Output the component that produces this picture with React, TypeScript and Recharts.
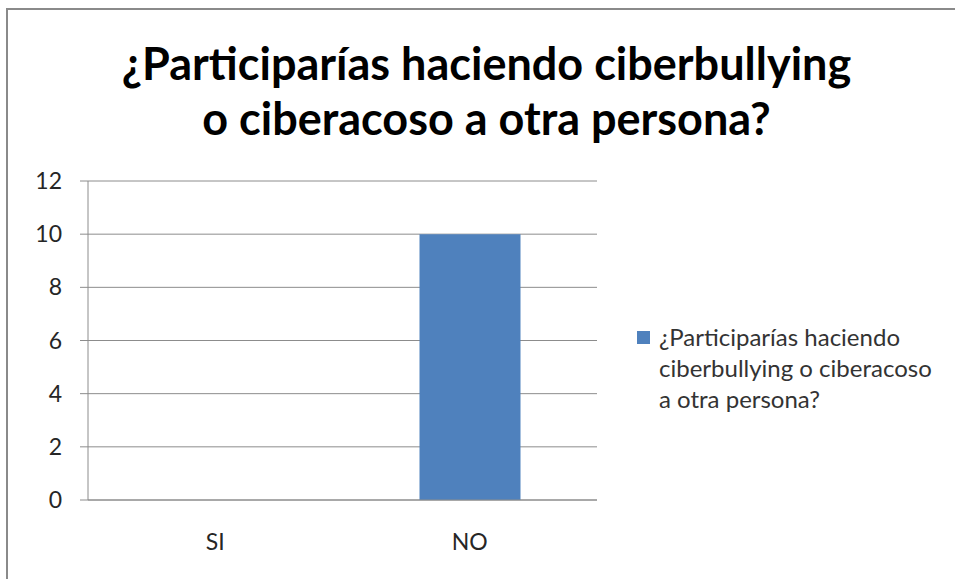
import React from 'react';
import { BarChart, Bar, XAxis, YAxis, CartesianGrid, Legend } from 'recharts';

const categories = ['SI', 'NO'];
const values = [0, 10];
const yTicks = [0, 2, 4, 6, 8, 10, 12];
const seriesName = '¿Participarías haciendo ciberbullying o ciberacoso a otra persona?';
const titleLines = ['¿Participarías haciendo ciberbullying', 'o ciberacoso a otra persona?'];
const boundaryTicks = [0, 1, 2];

const FONT = 'Lato, "Open Sans", sans-serif';
const BAR = '#4f81bd';
const GRID = '#8c8c8c';

const data = categories.map((c, i) => ({ name: c, value: values[i], pos: i + 0.5 }));

function LegendBox() {
  return (
    <div style={{ display: 'flex', alignItems: 'flex-start', fontFamily: FONT, fontSize: 24, color: '#333' }}>
      <div style={{ width: 13, height: 13, background: BAR, marginTop: 10, marginRight: 9, flexShrink: 0 }} />
      <div style={{ lineHeight: '31px', width: 300, whiteSpace: 'nowrap' }}>
        ¿Participarías haciendo<br />ciberbullying o ciberacoso<br />a otra persona?
      </div>
    </div>
  );
}

export default function App() {
  return (
    <div style={{ position: 'absolute', left: 0, top: 0, width: 955, height: 579, background: '#fff', overflow: 'hidden' }}>
      <div style={{ position: 'absolute', left: 6, top: 8, width: 960, height: 590, border: '2px solid #8a8a8a' }} />
      <div style={{ position: 'absolute', left: 9, top: 36, width: 955, textAlign: 'center', fontFamily: FONT, fontWeight: 700, fontSize: 45, lineHeight: '55px', color: '#000' }}>
        {titleLines.map((l) => (
          <div key={l}>{l}</div>
        ))}
      </div>
      <div style={{ position: 'absolute', left: 0, top: 0 }}>
        <BarChart width={955} height={579} data={data} margin={{ top: 181, right: 48, left: 28, bottom: 49 }}>
          <CartesianGrid horizontal vertical={false} stroke={GRID} strokeWidth={1} />
          <XAxis
            dataKey="name"
            xAxisId="cat"
            tickLine={false}
            axisLine={{ stroke: GRID }}
            height={30}
            tickMargin={28}
            tick={{ fontFamily: FONT, fontSize: 23, fill: '#262626' }}
          />
          <XAxis
            dataKey="pos"
            xAxisId="bound"
            type="number"
            domain={[0, 2]}
            ticks={boundaryTicks}
            tickLine={{ stroke: GRID }}
            tickSize={7}
            axisLine={false}
            tick={false}
            height={0}
          />
          <YAxis
            domain={[0, 12]}
            ticks={yTicks}
            width={60}
            tickSize={8}
            tickMargin={18}
            tickLine={{ stroke: GRID }}
            axisLine={{ stroke: GRID }}
            tick={{ fontFamily: FONT, fontSize: 23, fill: '#262626' }}
          />
          <Legend
            layout="vertical"
            align="right"
            verticalAlign="top"
            content={() => <LegendBox />}
            wrapperStyle={{ left: 637, top: 321, width: 310 }}
          />
          <Bar dataKey="value" name={seriesName} xAxisId="cat" fill={BAR} barSize={101} isAnimationActive={false} />
        </BarChart>
      </div>
    </div>
  );
}
